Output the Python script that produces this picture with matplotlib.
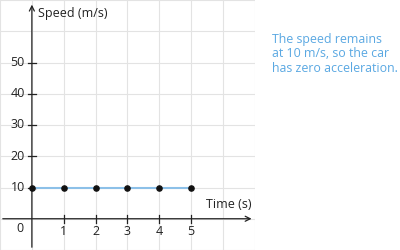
import matplotlib
matplotlib.use("Agg")
import matplotlib.pyplot as plt

time_s = [0, 1, 2, 3, 4, 5]
speed = [10, 10, 10, 10, 10, 10]
x_ticks = [1, 2, 3, 4, 5]
y_ticks = [10, 20, 30, 40, 50]
note = "The speed remains\nat 10 m/s, so the car\nhas zero acceleration."

plt.rcParams['font.family'] = ['Open Sans', 'DejaVu Sans']

fig = plt.figure(figsize=(4, 2.5), dpi=100)
ax = fig.add_axes([0, 0, 255/400, 1])
ax.set_xlim(-1, 7)
ax.set_ylim(-10, 70)
for s in ax.spines.values():
    s.set_visible(False)
ax.set_xticks([])
ax.set_yticks([])

grid_c = '#e3e3e3'
for gx in range(-1, 8):
    ax.axvline(gx, color=grid_c, lw=0.8, zorder=0)
for gy in range(-10, 71, 10):
    ax.axhline(gy, color=grid_c, lw=0.8, zorder=0)

# axes with arrows
ax.annotate('', xy=(6.98, 0), xytext=(-1, 0),
            arrowprops=dict(arrowstyle='->', color='#222222', lw=0.9, mutation_scale=9), zorder=3)
ax.annotate('', xy=(0, 69.4), xytext=(0, -10),
            arrowprops=dict(arrowstyle='->', color='#222222', lw=0.9, mutation_scale=9), zorder=3)

# ticks
for t in x_ticks:
    ax.plot([t, t], [-1.3, 1.3], color='#222222', lw=0.9, zorder=3)
    ax.text(t, -4.2, str(t), ha='center', va='center', fontsize=9, color='#222222')
for t in y_ticks:
    ax.plot([-0.12, 0.12], [t, t], color='#222222', lw=0.9, zorder=3)
    ax.text(-0.22, t, str(t), ha='right', va='center', fontsize=9, color='#222222')
ax.text(-0.25, -3.2, '0', ha='right', va='center', fontsize=9, color='#222222')

ax.text(0.18, 65.7, 'Speed (m/s)', ha='left', va='center', fontsize=9, color='#222222')
ax.text(6.9, 4.4, 'Time (s)', ha='right', va='center', fontsize=9, color='#222222')

ax.plot(time_s, speed, color='#8cc0e8', lw=1.5, zorder=4)
ax.scatter(time_s, speed, color='#111111', s=14, zorder=5)

fig.text(272/400, 1 - 33/250, note, ha='left', va='top', fontsize=8.9,
         color='#5aa8e2', linespacing=1.13)

fig.savefig('out.png', dpi=100)
